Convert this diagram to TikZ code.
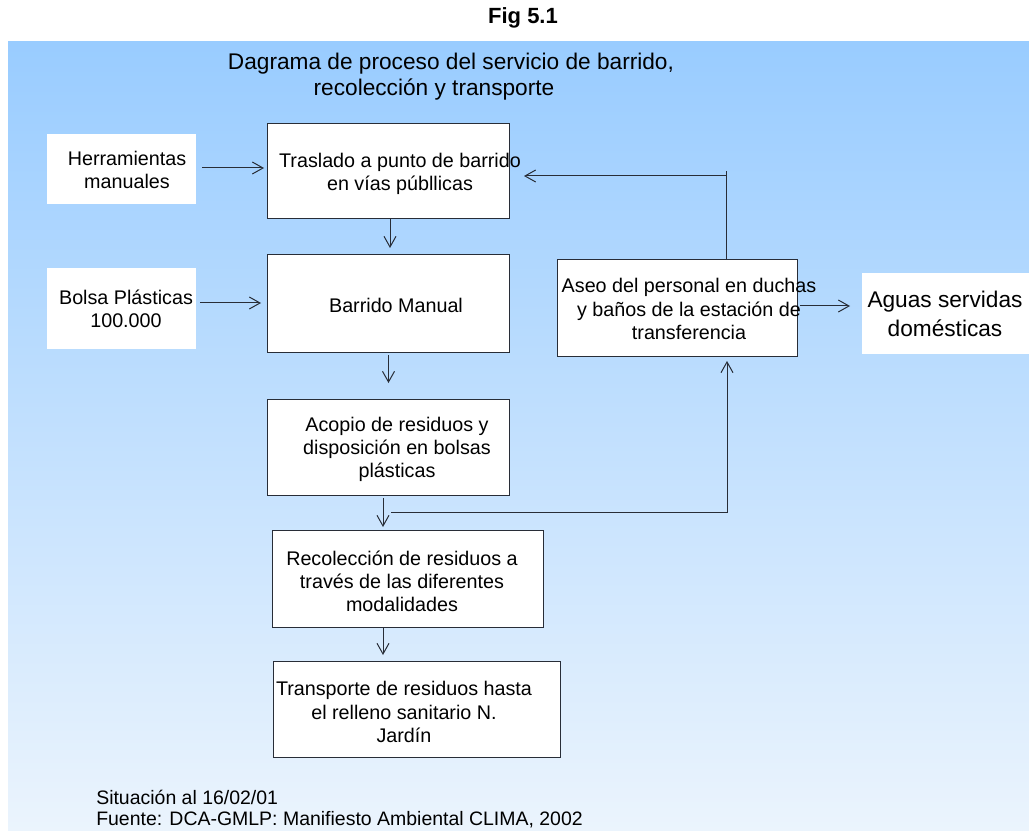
\documentclass[tikz,border=0pt]{standalone}
\usepackage{fontspec}
\setmainfont{Liberation Sans}
\usetikzlibrary{arrows.meta,calc}
\definecolor{bgtop}{RGB}{153,204,255}
\definecolor{bgbot}{RGB}{235,244,253}
\definecolor{lncol}{RGB}{40,45,55}
\begin{document}
\begin{tikzpicture}[x=0.75pt,y=-0.75pt,
  box/.style 2 args={draw=lncol, line width=0.75pt, fill=white, inner sep=0pt, outer sep=0pt, minimum width=#1*0.75pt, minimum height=#2*0.75pt},
  wbox/.style 2 args={fill=white, inner sep=0pt, outer sep=0pt, minimum width=#1*0.75pt, minimum height=#2*0.75pt},
  txt/.style={align=center, font=\fontsize{14.8}{17.3}\selectfont, inner sep=0pt},
  arr/.style={draw=lncol, line width=0.75pt, -{Straight Barb[length=8pt,width=9pt]}},
  plain/.style={draw=lncol, line width=0.75pt}]
\useasboundingbox (0,0) rectangle (1029,831);
\fill[white] (0,0) rectangle (1029,831);
\shade[top color=bgtop,bottom color=bgbot] (8,42) rectangle (1029,831);

% titles
\node[font=\bfseries\fontsize{16.5}{19}\selectfont, inner sep=0pt] (fig) at (523,18) {Fig 5.1};
\node[font=\fontsize{17}{20}\selectfont, inner sep=0pt] (t1) at (451,64) {Dagrama de proceso del servicio de barrido,};
\node[font=\fontsize{17}{20}\selectfont, inner sep=0pt] (t2) at (434,90) {recolección y transporte};

% boxes
\node[wbox={149}{70}] (herr) at (121.5,169) {};
\node[txt] (herrt) at (127,170) {Herramientas\\manuales};
\node[box={242}{95}] (tras) at (388,171.5) {};
\node[txt] (trast) at (400,174) {Traslado a punto de barrido\\en vías públlicas};
\node[box={242}{97}] (barr) at (388,303.5) {};
\node[txt] (barrt) at (396,305) {Barrido Manual};
\node[wbox={149}{81}] (bolsa) at (121.5,308.5) {};
\node[txt] (bolsat) at (126,309) {Bolsa Plásticas\\100.000};
\node[box={242}{96}] (acop) at (388,447) {};
\node[txt] (acopt) at (397,449) {Acopio de residuos y\\disposición en bolsas\\plásticas};
\node[box={271}{97}] (reco) at (407.5,578.5) {};
\node[txt] (recot) at (402,581) {Recolección de residuos a\\través de las diferentes\\modalidades};
\node[box={287}{96}] (trans) at (416.5,709) {};
\node[txt] (transt) at (404,712) {Transporte de residuos hasta\\el relleno sanitario N.\\Jardín};
\node[box={240}{96}] (aseo) at (677,308) {};
\node[txt] (aseot) at (689,309) {Aseo del personal en duchas\\y baños de la estación de\\transferencia};
\node[wbox={170}{81}] (aguas) at (947,313.5) {};
\node[txt, font=\fontsize{17}{21.7}\selectfont] (aguast) at (945,314) {Aguas servidas\\domésticas};

% footer
\node[anchor=west, font=\fontsize{14.6}{17}\selectfont, inner sep=0pt] (sit) at (96,797) {Situación al 16/02/01};
\node[anchor=west, font=\fontsize{14.6}{17}\selectfont, inner sep=0pt] (fue) at (96,820) {Fuente: DCA-GMLP: Manifiesto Ambiental CLIMA, 2002};

% connectors
\draw[arr] ($(herr.east)+(6,-1)$) -- ($(tras.west)+(-3,-3.5)$);
\draw[arr] ($(tras.south)+(2,0)$) -- ($(barr.north)+(2,-7)$);
\draw[arr] ($(bolsa.east)+(4,-5.5)$) -- ($(barr.west)+(-6,-0.5)$);
\draw[arr] ($(barr.south)+(0.5,3)$) -- ($(acop.north)+(0.5,-16)$);
\draw[arr] ($(acop.south)+(-5,3)$) -- ($(reco.north)+(-24.5,-3)$);
\draw[arr] ($(reco.south)+(-24.5,0)$) -- ($(trans.north)+(-33.5,-6)$);
\coordinate (b1) at (391,512);
\coordinate (b2) at (727,512);
\draw[arr] (b1) -- (b2) -- ($(b2 |- aseo.south)+(0,5)$);
\coordinate (r1) at (726,171);
\coordinate (r2) at (726,176);
\draw[plain] (aseo.north -| r1) -- (r1);
\draw[arr] (r2) -- ($(tras.east)+(15,4.5)$);
\draw[arr] ($(aseo.east)+(3,-2)$) -- ($(aguas.west)+(-12,-7.5)$);
\end{tikzpicture}
\end{document}
